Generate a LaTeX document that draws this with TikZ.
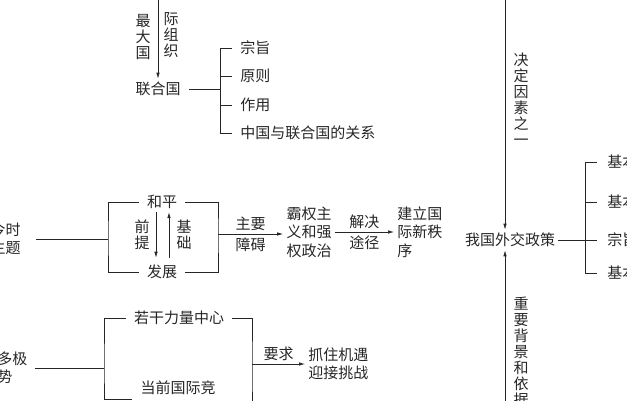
\documentclass[tikz,border=0pt]{standalone}
\usepackage{fontspec}
\setmainfont{Noto Sans CJK SC}
\usetikzlibrary{arrows.meta}
\tikzset{
  every node/.style={inner sep=3pt, text=black!85, font=\fontsize{15}{18.5}\selectfont},
  vtext/.style={align=center, font=\fontsize{15}{16}\selectfont},
  gap/.style={inner xsep=8pt},
  item/.style={anchor=west, inner xsep=8pt},
  arr/.style={-{Latex[length=6pt,width=3.5pt]}}
}
\begin{document}
\begin{tikzpicture}[x=1pt,y=-1pt,line width=0.7pt,draw=black!85]
\useasboundingbox (0,0) rectangle (627,400);
\clip (0,0) rectangle (627,400);

% 联合国
\node[gap] (uno) at (158,89) {联合国};
\coordinate (unoTop) at (158,-10);
\draw[arr] (unoTop) -- (uno);
\node[vtext] at (143,37) {最\\大\\国};
\node[vtext] at (171,35) {际\\组\\织};
\node[item] (aim) at (232,48) {宗旨};
\node[item] (rule) at (232,76) {原则};
\node[item] (role) at (232,105) {作用};
\node[item] (rel) at (232,133) {中国与联合国的关系};
\coordinate (ub) at (220,89);
\draw (uno) -- (ub);
\draw (aim.west) -- ++(-12,0) |- (rel.west);
\draw (rule.west) -- ++(-12,0);
\draw (role.west) -- ++(-12,0);

% 时代主题
\node[anchor=east, inner sep=0pt, align=left] (theme) at (21,239) {当今时\\代主题};
\node[gap] (peace) at (162,202) {和平};
\node[gap] (dev) at (162,272) {发展};
\coordinate (bl) at (108,239);
\coordinate (br) at (218,234);
\draw ([xshift=15pt]theme.east) -- (bl);
\draw (peace.west) -| (bl) |- (dev.west);
\draw (peace.east) -| (br) |- (dev.east);
\draw[arr, shorten >=4pt] ([xshift=-6pt]peace.south) -- ([xshift=-6pt]dev.north);
\draw[arr, shorten <=4pt] ([xshift=7pt]dev.north) -- ([xshift=7pt]peace.south);
\node[vtext] at (142,235) {前\\提};
\node[vtext] at (184,235) {基\\础};
\node[align=left] (hege) at (309,232) {霸权主\\义和强\\权政治};
\node[anchor=west, align=left] (order) at (394,232) {建立国\\际新秩\\序};
\draw[arr] (br) -- (hege.west |- br) node[midway,above] {主要} node[midway,below] {障碍};
\draw[arr] (hege) -- (order) node[midway,above] {解决} node[midway,below] {途径};

% 外交政策
\node (policy) at (510,240) {我国外交政策};
\coordinate (polTop) at (505,-10);
\coordinate (polBot) at (505,410);
\draw[arr] (polTop) -- (polTop |- policy.north);
\draw[arr] (polBot) -- (polBot |- policy.south);
\node[vtext] at (521,99) {决\\定\\因\\素\\之\\一};
\node[vtext, anchor=north] at (521,294) {重\\要\\背\\景\\和\\依\\据};
\node[item, inner xsep=10pt] (goal) at (597,162) {基本目标};
\node[item, inner xsep=10pt] (stand) at (597,202) {基本立场};
\node[item, inner xsep=10pt] (zong) at (597,240) {宗旨};
\node[item, inner xsep=10pt] (norm) at (597,273) {基本准则};
\draw (policy) -- (zong);
\draw (goal.west) -- ++(-12,0) |- (norm.west);
\draw (stand.west) -- ++(-12,0);

% 多极化
\node[anchor=west, inner sep=0pt, align=left] (multi) at (-33,368) {世界多极\\化趋势};
\node[gap] (strong) at (179,318) {若干力量中心};
\node[gap, align=center, font=\fontsize{15}{22}\selectfont] (compete) at (178,399) {当前国际竞\\争日趋激烈};
\coordinate (ml) at (104,368);
\coordinate (mr) at (252,364);
\draw ([xshift=7pt]multi.east) -- (ml);
\draw (strong.west) -| (ml) |- (compete.west);
\draw (strong.east) -| (mr) |- (compete.south east);
\node[anchor=west, align=left] (chance) at (305,364) {抓住机遇\\迎接挑战};
\draw[arr] (mr) -- (chance) node[midway,above] {要求};
\end{tikzpicture}
\end{document}
